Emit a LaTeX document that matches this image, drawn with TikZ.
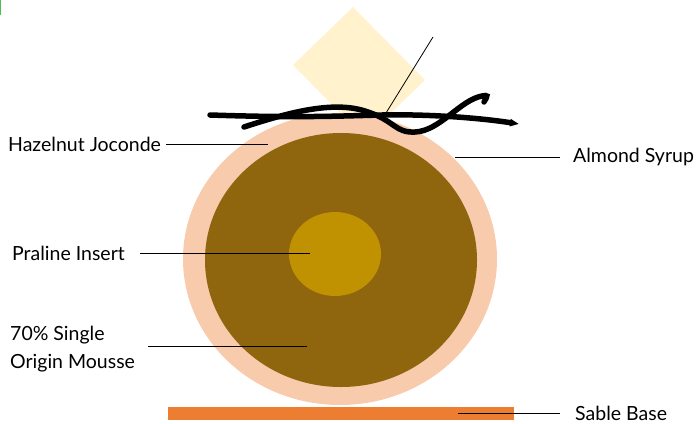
\documentclass[tikz,border=0pt]{standalone}
\usepackage{fontspec}
\setmainfont{Lato}
\usepackage{xcolor}
\usetikzlibrary{positioning,arrows.meta}
\definecolor{Cream}{HTML}{FFF2CC}
\definecolor{Peach}{HTML}{F8CBAD}
\definecolor{Cocoa}{HTML}{8F650E}
\definecolor{Praline}{HTML}{C09100}
\definecolor{Sable}{HTML}{ED7D31}
\definecolor{EdgeGreen}{HTML}{4CC04C}

\begin{document}
\begin{tikzpicture}[x=1pt,y=-1pt,
  labeltext/.style={font=\fontsize{19.5}{28}\selectfont,align=left,anchor=west,inner sep=0pt},
  leader/.style={line width=0.8pt},
  ribbon/.style={line width=5.5pt,line cap=round}]
  \useasboundingbox (0,0) rectangle (698,423);
  \draw[EdgeGreen,line width=1.2pt] (0.6,0) -- (0.6,15);
  % cake layers
  \fill[Cream] (353,7) -- (425,80) -- (365,138) -- (293,65) -- cycle;
  \fill[Peach] (340,259) ellipse [x radius=157,y radius=146];
  \fill[Cocoa] (341,260) ellipse [x radius=136,y radius=127];
  \fill[Praline] (335,254) ellipse [x radius=46,y radius=42];
  \fill[Sable] (168,407) rectangle (514,420);
  % chocolate ribbons
  \draw[ribbon,-{Triangle[length=9pt,width=7pt]}] (210,115) .. controls (300,118) and (340,116) .. (382,115)
    .. controls (430,114) and (480,118) .. (519,124);
  \draw[ribbon] (244,127) .. controls (290,112) and (335,100) .. (368,112)
    .. controls (395,121) and (395,133) .. (415,132)
    .. controls (440,131) and (460,100) .. (482,96) .. controls (488,95) .. (484,102);
  % labels
  \node[labeltext] (hazelnut) at (8,144) {Hazelnut Joconde};
  \node[labeltext] (almond) at (573,157) {Almond Syrup};
  \node[labeltext] (praline) at (12,253) {Praline Insert};
  \node[labeltext] (mousse) at (10,349) {70\% Single\\Origin Mousse};
  \node[labeltext] (sable) at (575,413) {Sable Base};
  \coordinate (hazelnut end) at (268,144);
  \coordinate (almond end) at (455,157);
  \coordinate (praline end) at (310,253);
  \coordinate (mousse end) at (307,346);
  \coordinate (sable end) at (458,413);
  \coordinate (topping start) at (433,37);
  \coordinate (topping end) at (386,113);
  \draw[leader] ([xshift=5pt]hazelnut.east) -- (hazelnut end);
  \draw[leader] ([xshift=-13pt]almond.west) -- (almond end);
  \draw[leader] ([xshift=15pt]praline.east) -- (praline end);
  \draw[leader] ([xshift=13pt]mousse.east |- mousse end) -- (mousse end);
  \draw[leader] ([xshift=-15pt]sable.west) -- (sable end);
  \draw[leader] (topping start) -- (topping end);
\end{tikzpicture}
\end{document}
